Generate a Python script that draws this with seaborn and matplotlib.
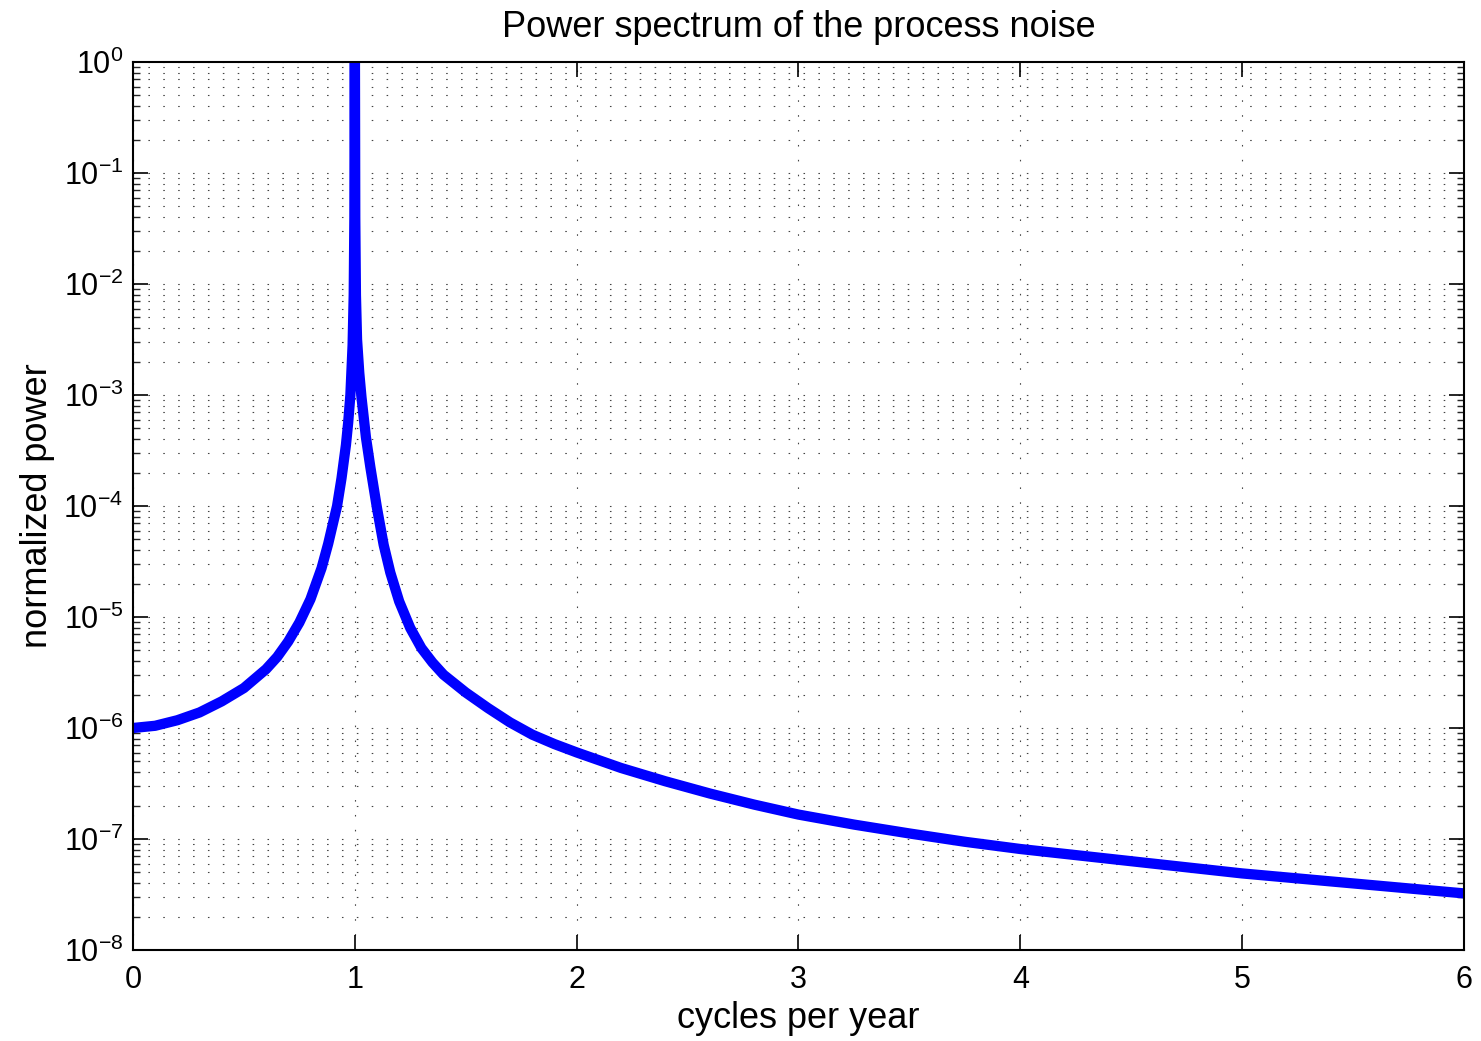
import matplotlib
matplotlib.use('AGG')

import matplotlib.pyplot as plt
import matplotlib.ticker as mticker
import seaborn as sns
import numpy as np
import pandas as pd

# values (x in cycles/year, log10 of normalized power)
cycles = [0.0, 0.1, 0.2, 0.3, 0.4, 0.5, 0.6, 0.65, 0.7, 0.75, 0.8, 0.85,
          0.88, 0.9, 0.92, 0.94, 0.96, 0.97, 0.98, 0.99, 0.995, 0.998, 1.0,
          1.002, 1.005, 1.01, 1.02, 1.03, 1.05, 1.07, 1.1, 1.13, 1.16, 1.2,
          1.25, 1.3, 1.35, 1.4, 1.5, 1.6, 1.7, 1.8, 1.9, 2.0, 2.2, 2.4, 2.6,
          2.8, 3.0, 3.25, 3.5, 3.75, 4.0, 4.5, 5.0, 5.5, 6.0]
log_power = [-6.00, -5.98, -5.93, -5.86, -5.76, -5.64, -5.47, -5.36, -5.22,
             -5.05, -4.84, -4.56, -4.34, -4.17, -4.00, -3.75, -3.45, -3.25,
             -3.00, -2.55, -2.10, -1.40, 0.50,
             -1.40, -2.10, -2.50, -2.80, -3.02, -3.38, -3.65, -4.02, -4.35,
             -4.60, -4.86, -5.10, -5.28, -5.41, -5.52, -5.68, -5.82, -5.95,
             -6.06, -6.145, -6.22, -6.36, -6.48, -6.59, -6.69, -6.78, -6.87,
             -6.95, -7.025, -7.09, -7.20, -7.31, -7.40, -7.49]

x_ticks = [0, 1, 2, 3, 4, 5, 6]
y_decades = [-8, -7, -6, -5, -4, -3, -2, -1, 0]

df = pd.DataFrame({'cycles': cycles, 'power': [10.0 ** v for v in log_power]})

sns.set_style('ticks')
plt.rcParams['font.family'] = ['Liberation Sans', 'DejaVu Sans']
plt.rcParams['mathtext.fontset'] = 'custom'
plt.rcParams['mathtext.rm'] = 'Liberation Sans'
plt.rcParams['mathtext.it'] = 'Liberation Sans'
plt.rcParams['text.color'] = 'black'
plt.rcParams['axes.labelcolor'] = 'black'

fig = plt.figure(figsize=(14.81, 10.41), dpi=100)
ax = fig.add_axes([0.0898, 0.0874, 0.8987, 0.8531])

ax.set_yscale('log')
sns.lineplot(data=df, x='cycles', y='power', ax=ax, color='#0000ff',
             linewidth=7.4, estimator=None, sort=False)

ax.set_xlim(0, 6)
ax.set_ylim(1e-8, 1)
ax.set_xticks(x_ticks)
ax.set_xticklabels([str(t) for t in x_ticks])
ax.set_yticks([10.0 ** d for d in y_decades])
ax.set_yticklabels([r'$\mathregular{10^{%d}}$' % d for d in y_decades])
ax.yaxis.set_minor_locator(mticker.LogLocator(base=10, subs=np.arange(2, 10), numticks=100))
ax.yaxis.set_minor_formatter(mticker.NullFormatter())

dots = (0, (1.4, 12))
ax.grid(True, axis='x', which='major', color='#444444', linewidth=0.8, linestyle=dots)
ax.grid(True, axis='y', which='both', color='#444444', linewidth=0.8, linestyle=dots)
ax.set_axisbelow(True)

ax.tick_params(axis='both', which='major', direction='in', length=11, width=1.2,
               top=True, right=True, labelsize=22, colors='black')
ax.tick_params(axis='y', which='minor', direction='in', length=5, width=1.0,
               left=True, right=True)
ax.tick_params(axis='x', which='major', pad=11)
ax.tick_params(axis='y', which='major', pad=7)
for lbl in ax.get_yticklabels():
    lbl.set_verticalalignment('center_baseline')

for s in ax.spines.values():
    s.set_visible(True)
    s.set_linewidth(1.5)
    s.set_color('black')

ax.set_title('Power spectrum of the process noise', fontsize=26, pad=18)
ax.set_xlabel('cycles per year', fontsize=26, labelpad=4)
ax.set_ylabel('normalized power', fontsize=26, labelpad=6)

fig.savefig('out.png', dpi=100)
